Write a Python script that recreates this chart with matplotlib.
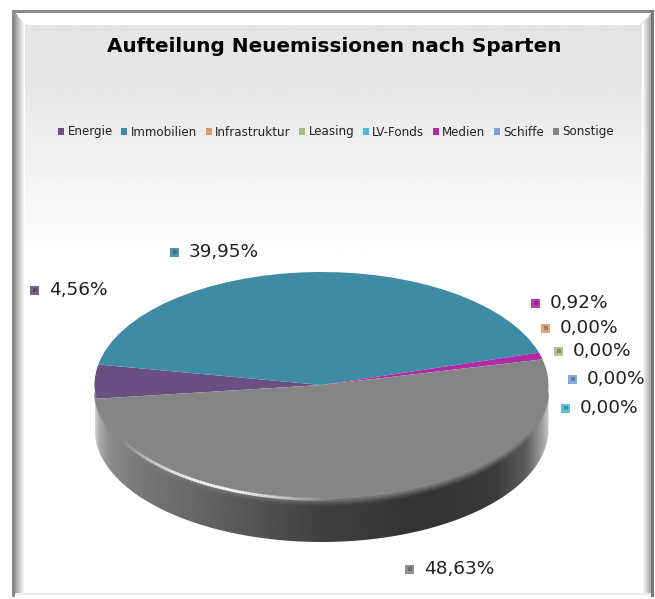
import numpy as np
import matplotlib.pyplot as plt
from matplotlib.patches import PathPatch, Rectangle
from matplotlib.path import Path

W, H = 655, 599

categories = ['Energie', 'Immobilien', 'Infrastruktur', 'Leasing', 'LV-Fonds', 'Medien', 'Schiffe', 'Sonstige']
values = [4.56, 39.95, 0.0, 0.0, 0.0, 0.92, 0.0, 48.63]
value_labels = ['4,56%', '39,95%', '0,00%', '0,00%', '0,00%', '0,92%', '0,00%', '48,63%']
colors = ['#6a5082', '#3f8ba3', '#d99a6c', '#a5bd7e', '#4fb8d3', '#b02aa8', '#7c9fd3', '#858585']

# pixel positions of the data labels (marker x, y)
label_pos = [(34, 290), (174, 252), (545, 328), (558, 351), (565, 408), (535, 303), (572, 379), (409, 569)]

# pie geometry in pixels
cx, cy, rx, ry = 321.5, 385, 227, 113
depth = 44

plt.rcParams['font.family'] = ['DejaVu Sans']
fig = plt.figure(figsize=(W / 100, H / 100), dpi=100, facecolor='white')

bg = fig.add_axes([0, 0, 1, 1])
bg.axis('off')

# panel gradient, light grey at the top fading to white
x0, x1, y0, y1 = 15, 652, 13, 597
grad = np.interp(np.linspace(0, 1, 300), [0, 0.12, 0.42, 1], [0.895, 0.905, 1.0, 1.0])[:, None]
bg.imshow(grad, extent=(x0, x1, y1, y0), cmap='gray', vmin=0, vmax=1, aspect='auto', zorder=1)

# bevel of the frame
bevel = 10
top = PathPatch(Path([(x0, y0), (x1, y0), (x1 - 13, y0 + 12), (x0 + 9, y0 + 12)]), fc='white', ec='none', zorder=2)
bg.add_patch(top)
for i in range(bevel):
    g = 0.62 + 0.38 * i / (bevel - 1)
    bg.add_patch(Rectangle((x0 + i, y0 + i * 1.2), 1, y1 - y0 - i * 1.2 - 3, fc=str(g), ec='none', zorder=2))
    bg.add_patch(Rectangle((x1 - i - 1, y0 + i * 1.2), 1, y1 - y0 - i * 1.2 - 3, fc=str(g), ec='none', zorder=2))
bg.add_patch(Rectangle((x0, y1 - 4), x1 - x0, 2, fc='#ececec', ec='none', zorder=2))
bg.add_patch(Rectangle((12, 10), 3, y1 - 10, fc='#8a8a8a', ec='none', zorder=3))
bg.add_patch(Rectangle((12, 10), x1 - 12 + 1, 3, fc='#8a8a8a', ec='none', zorder=3))
bg.add_patch(Rectangle((x1 - 1, 10), 3, y1 - 10, fc='#777777', ec='none', zorder=3))

# side wall of the disc
t = np.linspace(np.pi, 0, 200)
lower_x = cx + rx * np.cos(t)
lower_y = cy + ry * np.sin(t)
verts = np.vstack([np.c_[lower_x, lower_y + depth], np.c_[lower_x[::-1], lower_y[::-1]]])
wall = PathPatch(Path(np.vstack([verts, verts[0]])), fc='none', ec='none', zorder=4)
bg.add_patch(wall)
fx = np.array([0, 0.008, 0.03, 0.1, 0.3, 0.5, 0.72, 0.88, 0.95, 0.985, 1])
fg = np.array([0.82, 0.68, 0.55, 0.47, 0.36, 0.25, 0.20, 0.23, 0.36, 0.62, 0.78])
xs = np.linspace(0, 1, 500)
shade = np.interp(xs, fx, fg)[None, :]
img = bg.imshow(shade, extent=(cx - rx, cx + rx, cy + ry + depth, cy), cmap='gray', vmin=0, vmax=1,
                aspect='auto', zorder=4)
img.set_clip_path(wall)
bg.set_xlim(0, W)
bg.set_ylim(H, 0)

# pie top, stretched to an ellipse by an axes with free aspect
ax = fig.add_axes([(cx - rx) / W, 1 - (cy + ry) / H, 2 * rx / W, 2 * ry / H], zorder=5)
ax.patch.set_alpha(0)
wedges, _ = ax.pie(values, colors=colors, startangle=187, counterclock=False, radius=1)
ax.set_aspect('auto')
ax.set_xlim(-1, 1)
ax.set_ylim(-1, 1)

over = fig.add_axes([0, 0, 1, 1], zorder=6)
over.set_xlim(0, W)
over.set_ylim(H, 0)
over.axis('off')

# rounded rim: soft grey band below the front edge, bright highlight on the left part
tt = np.radians(np.linspace(4, 176, 260))
offsets = [0.5, 1.5, 2.5, 3.5, 4.5, 5.5, 6.5, 7.5]
alphas = [0.85, 0.7, 0.55, 0.42, 0.3, 0.2, 0.12, 0.06]
for off, a in zip(offsets, alphas):
    over.plot(cx + rx * np.cos(tt), cy + ry * np.sin(tt) + off, color='#858585', alpha=a, lw=1.1)
th = np.radians(np.linspace(85, 152, 160))
fade = np.sin((th - th[0]) / (th[-1] - th[0]) * np.pi) ** 1.2
for i in range(len(th) - 1):
    over.plot(cx + rx * np.cos(th[i:i + 2]), cy + ry * np.sin(th[i:i + 2]) + 1.5, color='white',
              alpha=float(fade[i]), lw=2.0, solid_capstyle='butt')

# title, legend, labels
over.text(334, 46, 'Aufteilung Neuemissionen nach Sparten', ha='center', va='center',
          fontsize=14.4, fontweight='bold', color='black')
leg = fig.legend(wedges, categories, loc='center', bbox_to_anchor=(336 / W, 1 - 132 / H), ncol=8, frameon=False,
                 fontsize=8.6, handlelength=0.5, handleheight=0.5, handletextpad=0.3, columnspacing=0.7,
                 borderpad=0, labelcolor='#222222')
leg.set_zorder(7)

for (mx, my), c, lab in zip(label_pos, colors, value_labels):
    over.add_patch(Rectangle((mx - 4.5, my - 4.5), 9, 9, fc=c, ec='none', alpha=0.9))
    over.add_patch(Rectangle((mx - 1, my - 2), 4, 4, fc='black', ec='none', alpha=0.25))
    over.text(mx + 15, my, lab, ha='left', va='center', fontsize=13.3, color='#222222')

fig.savefig('out.png', dpi=100)
